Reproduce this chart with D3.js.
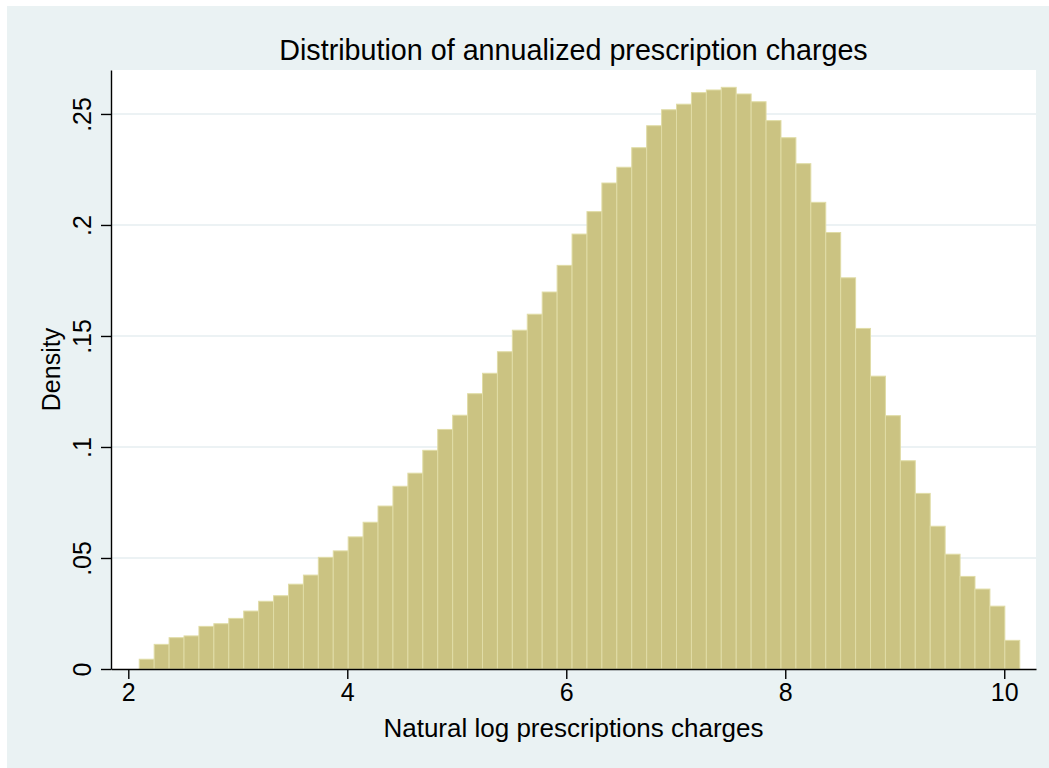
<!DOCTYPE html>
<html lang="en">
<head>
<meta charset="utf-8">
<script src="https://d3js.org/d3.v7.min.js"></script>
<style>
  body { margin: 0; background: #ffffff; }
  text { font-family: "Liberation Sans", Arial, Helvetica, sans-serif; fill: #000; }
</style>
</head>
<body>
<div id="chart"></div>
<script>
// histogram bins
const binStart = 2.10;
const binWidth = 0.1363;
const density = [
  0.0044, 0.0111, 0.0141, 0.0149, 0.0192, 0.0204, 0.0228, 0.0261, 0.0305, 0.0330,
  0.0382, 0.0423, 0.0503, 0.0532, 0.0595, 0.0661, 0.0734, 0.0823, 0.0882, 0.0985,
  0.1079, 0.1143, 0.1240, 0.1332, 0.1429, 0.1526, 0.1598, 0.1698, 0.1818, 0.1959,
  0.2060, 0.2189, 0.2260, 0.2348, 0.2447, 0.2519, 0.2544, 0.2596, 0.2608, 0.2620,
  0.2590, 0.2555, 0.2470, 0.2393, 0.2276, 0.2102, 0.1966, 0.1762, 0.1534, 0.1319,
  0.1141, 0.0938, 0.0791, 0.0643, 0.0517, 0.0417, 0.0360, 0.0283, 0.0129
];
const xTicks = [2, 4, 6, 8, 10];
const yTicks = [0, 0.05, 0.1, 0.15, 0.2, 0.25];
const yTickLabels = ["0", ".05", ".1", ".15", ".2", ".25"];

const W = 1049, H = 768;
const plot = {left: 111, right: 1036, top: 70, bottom: 669};

const svg = d3.select("#chart").append("svg")
  .attr("width", W).attr("height", H);

// graph region
svg.append("rect").attr("x", 7).attr("y", 6).attr("width", W - 7).attr("height", H - 6)
  .attr("fill", "#eaf2f3");
// plot region
svg.append("rect").attr("x", plot.left).attr("y", plot.top)
  .attr("width", plot.right - plot.left).attr("height", plot.bottom - plot.top)
  .attr("fill", "#ffffff");

const x = d3.scaleLinear().domain([1.842, 10.29]).range([plot.left, plot.right]);
const y = d3.scaleLinear().domain([0, 0.2698]).range([plot.bottom, plot.top]);

// grid
svg.append("g").selectAll("line")
  .data(yTicks.filter(d => d > 0))
  .enter().append("line")
  .attr("x1", plot.left).attr("x2", plot.right)
  .attr("y1", d => y(d)).attr("y2", d => y(d))
  .attr("stroke", "#e6eef0").attr("stroke-width", 1.5);

// bars
svg.append("g").selectAll("rect")
  .data(density)
  .enter().append("rect")
  .attr("x", (d, i) => x(binStart + i * binWidth))
  .attr("width", (d, i) => x(binStart + (i + 1) * binWidth) - x(binStart + i * binWidth))
  .attr("y", d => y(d))
  .attr("height", d => y(0) - y(d))
  .attr("fill", "#cbc382")
  .attr("stroke", "#e0dca6")
  .attr("stroke-width", 1);

// axes
const xAxis = svg.append("g")
  .attr("transform", "translate(0," + plot.bottom + ")")
  .call(d3.axisBottom(x).tickValues(xTicks).tickFormat(d3.format("d"))
    .tickSize(10).tickSizeOuter(0).tickPadding(4));
xAxis.selectAll("text").style("font-size", "25px");

const yAxis = svg.append("g")
  .attr("transform", "translate(" + plot.left + ",0)")
  .call(d3.axisLeft(y).tickValues(yTicks).tickFormat((d, i) => yTickLabels[i])
    .tickSize(10).tickSizeOuter(0));
yAxis.selectAll("text")
  .style("font-size", "25px")
  .attr("text-anchor", "middle")
  .attr("dy", 0)
  .attr("x", 0)
  .attr("transform", "translate(-20,0) rotate(-90)");

svg.selectAll(".domain, .tick line").attr("stroke", "#000").attr("stroke-width", 1.4);

// titles
svg.append("text")
  .attr("x", (plot.left + plot.right) / 2).attr("y", 60)
  .attr("text-anchor", "middle").style("font-size", "28.7px")
  .text("Distribution of annualized prescription charges");

svg.append("text")
  .attr("x", (plot.left + plot.right) / 2).attr("y", 737)
  .attr("text-anchor", "middle").style("font-size", "26px")
  .text("Natural log prescriptions charges");

svg.append("text")
  .attr("transform", "translate(60," + ((plot.top + plot.bottom) / 2) + ") rotate(-90)")
  .attr("text-anchor", "middle").style("font-size", "25px")
  .text("Density");
</script>
</body>
</html>
